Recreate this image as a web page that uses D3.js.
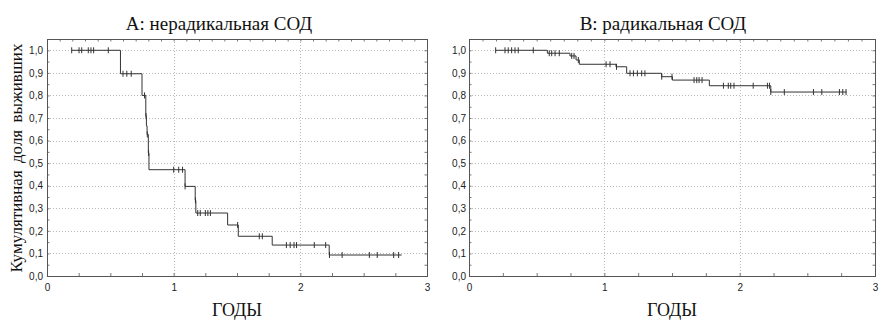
<!DOCTYPE html>
<html>
<head>
<meta charset="utf-8">
<script src="https://cdn.jsdelivr.net/npm/d3@7"></script>
<style>
  body { margin: 0; background: #fff; }
  svg { display: block; }
</style>
</head>
<body>
<div id="chart"></div>
<script>
// --- data ---
const xTickValues = [0, 1, 2, 3];
const xTickLabels = ["0", "1", "2", "3"];
const yTickValues = [0, 0.1, 0.2, 0.3, 0.4, 0.5, 0.6, 0.7, 0.8, 0.9, 1.0];
const yTickLabels = ["0,0", "0,1", "0,2", "0,3", "0,4", "0,5", "0,6", "0,7", "0,8", "0,9", "1,0"];

// A: step times (first = start of curve) and survival after each step
const stepTimesA = [0.195, 0.58, 0.75, 0.78, 0.785, 0.79, 0.80, 0.805, 1.09, 1.17, 1.175, 1.426, 1.51, 1.778, 2.228];
const stepSurvA  = [1.0, 0.896, 0.80, 0.708, 0.665, 0.627, 0.545, 0.471, 0.397, 0.335, 0.279, 0.226, 0.176, 0.137, 0.093];
const endA = 2.80;
const censorsA = [0.195, 0.253, 0.274, 0.326, 0.347, 0.368, 0.484, 0.60, 0.63, 0.665, 0.77, 0.782, 0.792, 0.802,
                  1.0, 1.04, 1.07, 1.09, 1.172, 1.19, 1.21, 1.25, 1.27, 1.29, 1.505, 1.676, 1.70,
                  1.89, 1.92, 1.95, 1.97, 2.11, 2.20, 2.23, 2.33, 2.545, 2.607, 2.737, 2.776];

// B
const stepTimesB = [0.197, 0.579, 0.746, 0.791, 0.815, 1.086, 1.165, 1.424, 1.503, 1.776, 2.23];
const stepSurvB  = [1.0, 0.987, 0.975, 0.957, 0.938, 0.927, 0.898, 0.883, 0.868, 0.843, 0.815];
const endB = 2.79;
const censorsB = [0.197, 0.266, 0.29, 0.315, 0.34, 0.364, 0.475, 0.593, 0.611, 0.636, 0.667, 0.759, 0.776, 0.808,
                  1.013, 1.042, 1.09, 1.19, 1.215, 1.244, 1.276, 1.30, 1.424, 1.50, 1.663, 1.683, 1.70, 1.722,
                  1.88, 1.916, 1.934, 1.958, 2.10, 2.205, 2.22, 2.23, 2.33, 2.545, 2.607, 2.737, 2.762, 2.786];

const titleA = "A: нерадикальная СОД";
const titleB = "B: радикальная СОД";
const xAxisTitle = "ГОДЫ";
const yAxisTitle = "Кумулятивная доля выживших";

// --- layout ---
const W = 888, H = 325;
const plotTop = 39, plotBottom = 276;
const serif = "'Liberation Serif', 'Times New Roman', serif";
const sans = "'Liberation Sans', Arial, sans-serif";

const svg = d3.select("#chart").append("svg")
    .attr("width", W).attr("height", H)
    .attr("viewBox", `0 0 ${W} ${H}`);

svg.append("rect").attr("width", W).attr("height", H).attr("fill", "#fff");

const panels = [
    { title: titleA, left: 47, right: 427, titleX: 219, times: stepTimesA, surv: stepSurvA, end: endA, cens: censorsA },
    { title: titleB, left: 469, right: 875, titleX: 663, times: stepTimesB, surv: stepSurvB, end: endB, cens: censorsB }
];

const yScale = d3.scaleLinear().domain([0, 1.05]).range([plotBottom, plotTop]);

panels.forEach(p => {
    const x = d3.scaleLinear().domain([0, 3]).range([p.left, p.right]);
    const g = svg.append("g");

    // Grid (dotted)
    g.selectAll(".hgrid").data(yTickValues.filter(v => v > 0)).enter()
        .append("line")
        .attr("x1", p.left).attr("x2", p.right)
        .attr("y1", d => Math.round(yScale(d)) + 0.5).attr("y2", d => Math.round(yScale(d)) + 0.5)
        .attr("stroke", "#b8b8b8").attr("stroke-width", 1)
        .attr("stroke-dasharray", "1,2");
    g.selectAll(".vgrid").data([1, 2]).enter()
        .append("line")
        .attr("x1", d => Math.round(x(d)) + 0.5).attr("x2", d => Math.round(x(d)) + 0.5)
        .attr("y1", plotTop).attr("y2", plotBottom)
        .attr("stroke", "#b8b8b8").attr("stroke-width", 1)
        .attr("stroke-dasharray", "1,2");

    // Minor ticks (inward) on all four edges
    const bottomAxis = d3.axisBottom(x).tickValues(d3.range(0, 3.01, 0.25)).tickSize(-3).tickFormat("");
    const topAxis = d3.axisTop(x).tickValues(d3.range(0, 3.01, 0.1)).tickSize(-2.5).tickFormat("");
    const leftAxis = d3.axisLeft(yScale).tickValues(d3.range(0, 1.051, 0.05)).tickSize(-2.5).tickFormat("");
    const rightAxis = d3.axisRight(yScale).tickValues(d3.range(0, 1.051, 0.05)).tickSize(-2.5).tickFormat("");
    [[bottomAxis, `translate(0,${plotBottom})`], [topAxis, `translate(0,${plotTop})`],
     [leftAxis, `translate(${p.left},0)`], [rightAxis, `translate(${p.right},0)`]].forEach(([ax, tr]) => {
        const a = g.append("g").attr("transform", tr).call(ax);
        a.select(".domain").remove();
        a.selectAll("line").attr("stroke", "#777");
    });

    // Frame
    g.append("rect")
        .attr("x", p.left + 0.5).attr("y", plotTop + 0.5)
        .attr("width", p.right - p.left).attr("height", plotBottom - plotTop)
        .attr("fill", "none").attr("stroke", "#555").attr("stroke-width", 1);

    // Tick labels
    const xLab = g.append("g").attr("transform", `translate(0,${plotBottom})`)
        .call(d3.axisBottom(x).tickValues(xTickValues).tickSize(0).tickPadding(8)
            .tickFormat((d, i) => xTickLabels[i]));
    xLab.select(".domain").remove();
    xLab.selectAll("text").attr("font-family", sans).attr("font-size", 10).attr("fill", "#222");

    const yLab = g.append("g").attr("transform", `translate(${p.left},0)`)
        .call(d3.axisLeft(yScale).tickValues(yTickValues).tickSize(0).tickPadding(p.left < 100 ? 4 : 3)
            .tickFormat((d, i) => yTickLabels[i]));
    yLab.select(".domain").remove();
    yLab.selectAll("text").attr("font-family", sans).attr("font-size", 10).attr("fill", "#222");

    // Survival step curve
    const pts = p.times.map((t, i) => [t, p.surv[i]]);
    pts.push([p.end, p.surv[p.surv.length - 1]]);
    const line = d3.line()
        .x(d => x(d[0]))
        .y(d => yScale(d[1]))
        .curve(d3.curveStepAfter);
    g.append("path")
        .attr("d", line(pts))
        .attr("fill", "none").attr("stroke", "#333").attr("stroke-width", 1);

    // Censor marks
    const survAt = t => p.surv[Math.max(0, d3.bisectRight(p.times, t) - 1)];
    g.selectAll(".cens").data(p.cens).enter()
        .append("line")
        .attr("x1", d => x(d)).attr("x2", d => x(d))
        .attr("y1", d => yScale(survAt(d)) - 3)
        .attr("y2", d => yScale(survAt(d)) + 3)
        .attr("stroke", "#333").attr("stroke-width", 1);

    // Titles
    svg.append("text")
        .attr("x", p.titleX).attr("y", 30)
        .attr("text-anchor", "middle")
        .attr("font-family", serif).attr("font-size", 19).attr("fill", "#111")
        .text(p.title);
    svg.append("text")
        .attr("x", (p.left + p.right) / 2).attr("y", 316)
        .attr("text-anchor", "middle")
        .attr("font-family", serif).attr("font-size", 18).attr("fill", "#111")
        .text(xAxisTitle);
});

svg.append("text")
    .attr("transform", `translate(22,158) rotate(-90)`)
    .attr("text-anchor", "middle")
    .attr("font-family", serif).attr("font-size", 17).attr("fill", "#111")
    .attr("word-spacing", 3)
    .text(yAxisTitle);
</script>
</body>
</html>
